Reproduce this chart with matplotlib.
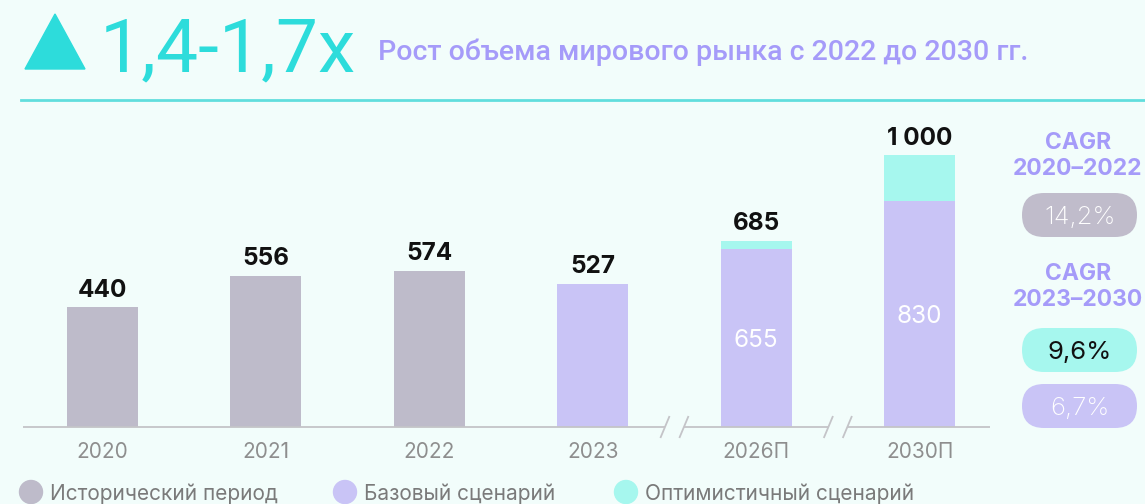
import numpy as np
import matplotlib
matplotlib.use("Agg")
import matplotlib.pyplot as plt
from matplotlib.patches import FancyBboxPatch, Polygon, Circle
from matplotlib.transforms import blended_transform_factory

# ---- data ----
years = ['2020', '2021', '2022', '2023', '2026П', '2030П']
historical = [440, 556, 574, 0, 0, 0]
base = [0, 0, 0, 527, 655, 830]
totals = [440, 556, 574, 527, 685, 1000]
total_labels = ['440', '556', '574', '527', '685', '1 000']
inner_labels = ['', '', '', '', '655', '830']
cagr_titles = ['CAGR\n2020–2022', 'CAGR\n2023–2030']
cagr_values = ['14,2%', '9,6%', '6,7%']
legend_labels = ['Исторический период', 'Базовый сценарий', 'Оптимистичный сценарий']
headline = '1,4-1,7x'
subtitle = 'Рост объема мирового рынка с 2022 до 2030 гг.'

HIST = '#BEBBCA'
BASE = '#C9C4F6'
OPT = '#A6F7EE'
TURQ = '#2DDCDB'
PURP = '#A59BF9'
BG = '#F2FDFB'

plt.rcParams['font.family'] = ['Inter', 'DejaVu Sans']

W, H = 1145, 504
fig = plt.figure(figsize=(W / 100, H / 100), dpi=100)
fig.patch.set_facecolor(BG)

# ---- bar axes ----
ax = fig.add_axes([23 / W, 1 - 427 / H, (990 - 23) / W, (427 - 110) / H])
ax.set_facecolor('none')
x = np.arange(len(years))
bw = 0.4345
hist = np.array(historical, float)
bas = np.array(base, float)
tot = np.array(totals, float)
opt = np.where((bas > 0) & (tot > bas), tot - bas, 0)

ax.bar(x, hist, width=bw, color=HIST, zorder=2)
ax.bar(x, bas, width=bw, color=BASE, zorder=2)
ax.bar(x, opt, width=bw, bottom=bas, color=OPT, zorder=2)

ax.set_xlim(-0.4865, 5.431)
ax.set_ylim(0, 317 / 0.272)
for sp in ax.spines.values():
    sp.set_visible(False)
ax.set_yticks([])
ax.set_xticks(x, years)
ax.tick_params(axis='x', length=0, pad=11, labelsize=15, labelcolor='#8E8E8E')

for xi, t, lab in zip(x, tot, total_labels):
    ax.annotate(lab, (xi, t), xytext=(0, 7.5), textcoords='offset points',
                ha='center', va='baseline', fontsize=17.5, fontweight='bold',
                color='#111111')
for xi, b, lab in zip(x, bas, inner_labels):
    if lab:
        ax.text(xi, b / 2, lab, ha='center', va='center_baseline',
                fontsize=17.5, color='white')

# baseline with axis breaks
tr = blended_transform_factory(ax.transData, ax.transAxes)
g = 0.058
breaks = [3.5, 4.5]
xmin, xmax = ax.get_xlim()
pts = [xmin]
for b in breaks:
    pts += [b - g, b + g]
pts.append(xmax)
lc = '#C4C4C8'
for i in range(0, len(pts), 2):
    ax.plot([pts[i], pts[i + 1]], [0, 0], transform=tr, color=lc, lw=1.3,
            clip_on=False, solid_capstyle='butt')
for b in breaks:
    for c in (b - g, b + g):
        ax.plot([c - 0.026, c + 0.026], [-0.032, 0.032], transform=tr,
                color=lc, lw=1.3, clip_on=False)

# ---- overlay (pixel coords) ----
oax = fig.add_axes([0, 0, 1, 1])
oax.set_xlim(0, W)
oax.set_ylim(H, 0)
oax.axis('off')
oax.patch.set_alpha(0)

oax.add_patch(Polygon([(25, 69), (55, 14), (85, 69)], closed=True, color=TURQ))
oax.text(100, 71, headline, fontsize=54, color=TURQ, va='baseline', ha='left',
         family=['Roboto', 'DejaVu Sans'], fontweight='normal')
oax.text(378, 60, subtitle, fontsize=20.5, color=PURP, va='baseline', ha='left',
         family=['Roboto', 'DejaVu Sans'], fontweight='medium')
oax.plot([21, W], [100, 100], color='#62DEDD', lw=2)

# CAGR panel
oax.text(1078, 156, cagr_titles[0], ha='center', va='center', fontsize=16.5,
         fontweight='bold', color=PURP, linespacing=1.22)
oax.text(1078, 287, cagr_titles[1], ha='center', va='center', fontsize=16.5,
         fontweight='bold', color=PURP, linespacing=1.22)
pills = [(215, '#C0BCCB', 'white', 'light'), (350, OPT, '#111111', 'normal'),
         (406, BASE, 'white', 'light')]
for (cy, fc, tc, fw), val in zip(pills, cagr_values):
    oax.add_patch(FancyBboxPatch((1022, cy - 22), 115, 44,
                                 boxstyle='round,pad=0,rounding_size=22',
                                 fc=fc, ec='none'))
    oax.text(1080, cy, val, ha='center', va='center_baseline', fontsize=18.5,
             color=tc, fontweight=fw)

# legend
for cx, col, lab in zip([31, 345, 626], [HIST, BASE, OPT], legend_labels):
    oax.add_patch(Circle((cx, 492), 11.5, color=col))
    oax.text(cx + 19, 492, lab, ha='left', va='center_baseline', fontsize=15,
             color='#7A7A7A')

fig.savefig('out.png', dpi=100, facecolor=BG)
